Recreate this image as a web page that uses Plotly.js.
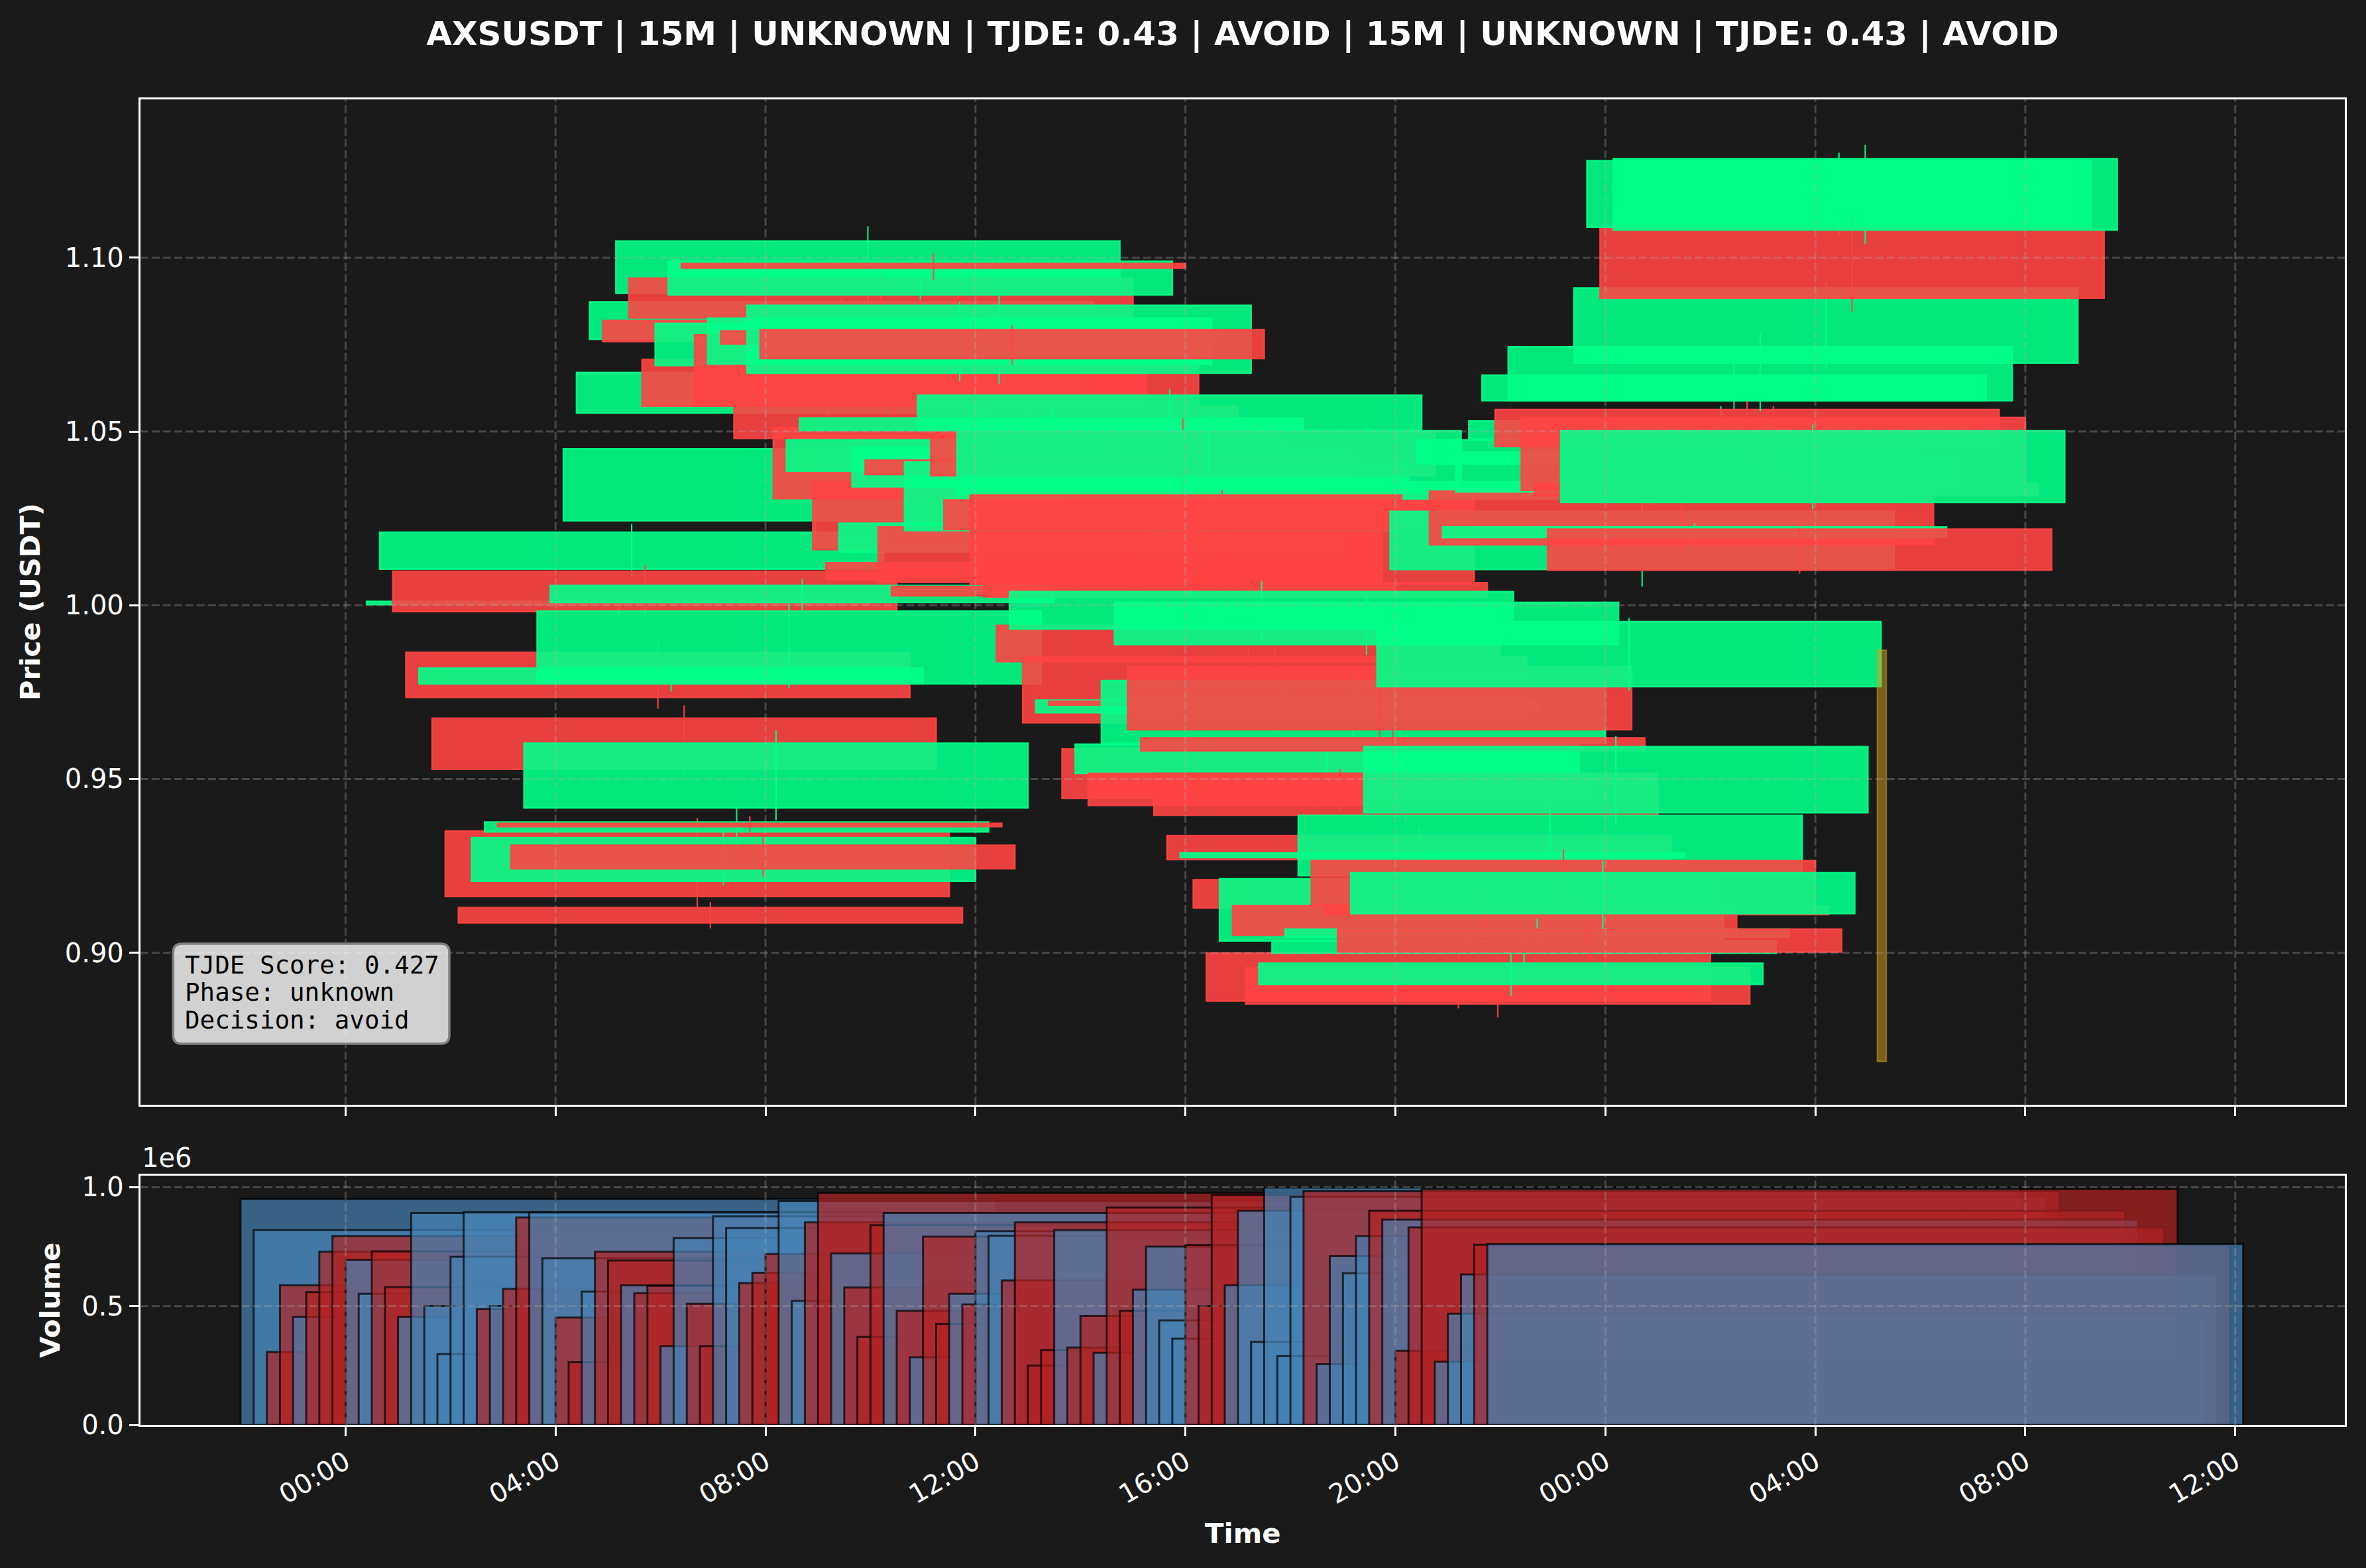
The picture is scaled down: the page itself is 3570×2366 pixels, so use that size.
<!DOCTYPE html>
<html><head><meta charset="utf-8">
<script src="https://cdn.plot.ly/plotly-3.0.1.min.js"></script>
<style>html,body{margin:0;padding:0;background:#1a1a1a;} #chart{width:3570px;height:2366px;}</style>
</head><body><div id="chart"></div>
<script>
// ---------------- data ----------------
const titleText = 'AXSUSDT | 15M | UNKNOWN | TJDE: 0.43 | AVOID | 15M | UNKNOWN | TJDE: 0.43 | AVOID';
const firstCandle = '2025-07-21T05:12:00Z';
const candleMinutes = 15;

const openP = [1.0002,1.0104,1.0098,0.9864,0.9774,0.9675,0.9350,0.9130,0.9206,0.9348,
0.9372,0.9309,0.9417,0.9774,1.0008,1.0243,1.0553,1.0765,1.0819,1.0898,
1.0941,1.0707,1.0690,1.0893,1.0983,1.0778,1.0694,1.0789,1.0573,1.0668,
1.0793,1.0511,1.0386,1.0503,1.0355,1.0122,1.0153,1.0341,1.0417,1.0225,
1.0054,1.0215,1.0503,1.0498,1.0303,1.0318,1.0317,1.0065,0.9942,0.9932,
0.9852,0.9691,0.9724,0.9586,0.9516,0.9516,0.9603,0.9887,0.9823,0.9618,
0.9516,0.9337,0.9274,0.9210,0.8999,0.9034,0.9135,0.8958,0.8909,0.8999,
0.9045,0.9222,0.9265,0.9134,0.9068,0.9113,0.9403,0.9766,1.0103,1.0306,
1.0406,1.0328,1.0195,1.0326,1.0478,1.0589,1.0563,1.0589,1.0540,1.0350,
1.0219,1.0296,1.0697,1.1088,1.1083,1.1080];
const closeP = [1.0011,1.0210,0.9982,0.9735,0.9819,0.9528,0.9162,0.9086,0.9331,0.9376,
0.9363,0.9242,0.9603,0.9983,1.0057,1.0450,1.0670,1.0873,1.0759,1.1048,
1.0827,1.0573,1.0811,1.0990,1.0970,1.0574,1.0826,1.0752,1.0480,1.0863,
1.0710,1.0307,1.0476,1.0539,1.0160,1.0073,1.0236,1.0455,1.0376,1.0066,
1.0027,1.0412,1.0604,1.0373,1.0218,1.0502,1.0060,1.0024,0.9838,1.0039,
0.9662,0.9727,0.9713,0.9444,0.9600,0.9424,0.9783,1.0008,0.9642,0.9581,
0.9396,0.9268,0.9287,0.9129,0.8861,0.9213,0.9051,0.8853,0.8970,0.9034,
0.9068,0.9395,0.9138,0.9110,0.9002,0.9230,0.9593,0.9953,1.0270,1.0355,
1.0476,1.0174,1.0225,1.0440,1.0530,1.0662,1.0457,1.0744,1.0331,1.0315,
1.0101,1.0502,1.0913,1.1279,1.0884,1.1285];
const highP = [1.0037,1.0234,1.0115,0.9895,0.9840,0.9712,0.9388,0.9146,0.9346,0.9416,
0.9393,0.9333,0.9640,1.0005,1.0075,1.0483,1.0687,1.0882,1.0863,1.1091,
1.0960,1.0735,1.0830,1.1003,1.1013,1.0801,1.0873,1.0816,1.0604,1.0892,
1.0806,1.0556,1.0502,1.0573,1.0374,1.0146,1.0275,1.0483,1.0459,1.0240,
1.0089,1.0440,1.0623,1.0538,1.0350,1.0554,1.0331,1.0089,0.9950,1.0070,
0.9873,0.9755,0.9755,0.9608,0.9611,0.9529,0.9803,1.0032,0.9873,0.9640,
0.9530,0.9360,0.9300,0.9232,0.9023,0.9246,0.9173,0.8997,0.9007,0.9061,
0.9097,0.9424,0.9298,0.9156,0.9090,0.9265,0.9624,0.9963,1.0317,1.0369,
1.0526,1.0357,1.0236,1.0470,1.0573,1.0697,1.0597,1.0782,1.0573,1.0366,
1.0224,1.0521,1.0928,1.1302,1.1123,1.1325];
const lowP = [0.9973,1.0080,0.9968,0.9702,0.9752,0.9510,0.9132,0.9070,0.9194,0.9302,
0.9346,0.9219,0.9381,0.9761,0.9987,1.0212,1.0540,1.0752,1.0716,1.0863,
1.0808,1.0540,1.0660,1.0880,1.0937,1.0554,1.0645,1.0702,1.0439,1.0636,
1.0692,1.0298,1.0374,1.0464,1.0141,1.0050,1.0122,1.0317,1.0331,1.0032,
0.9993,1.0184,1.0483,1.0322,1.0205,1.0305,1.0040,1.0008,0.9820,0.9897,
0.9636,0.9665,0.9675,0.9417,0.9508,0.9408,0.9584,0.9857,0.9598,0.9557,
0.9374,0.9246,0.9257,0.9108,0.8840,0.9001,0.9018,0.8814,0.8875,0.8970,
0.9013,0.9195,0.9103,0.9103,0.8982,0.9068,0.9371,0.9754,1.0054,1.0288,
1.0359,1.0146,1.0184,1.0312,1.0435,1.0556,1.0421,1.0558,1.0298,1.0298,
1.0091,1.0276,1.0683,1.1063,1.0844,1.1039];
const volumeM = [0.950,0.820,0.307,0.587,0.454,0.559,0.729,0.794,0.694,0.552,
0.730,0.580,0.454,0.891,0.501,0.298,0.708,0.896,0.487,0.501,
0.573,0.873,0.894,0.701,0.452,0.264,0.561,0.729,0.692,0.587,
0.554,0.585,0.331,0.786,0.510,0.331,0.878,0.828,0.597,0.640,
0.719,0.941,0.522,0.852,0.975,0.722,0.578,0.371,0.840,0.891,
0.480,0.285,0.792,0.426,0.552,0.507,0.815,0.796,0.608,0.852,
0.250,0.315,0.820,0.326,0.459,0.304,0.915,0.480,0.569,0.750,
0.440,0.363,0.757,0.501,0.966,0.587,0.901,0.350,0.998,0.290,
0.959,0.983,0.256,0.710,0.638,0.794,0.901,0.864,0.312,0.831,
0.992,0.266,0.468,0.633,0.758,0.761];

const alertTime = '2025-07-22 05:16:00';
const alertLow = 0.8687, alertHigh = 0.9871;

const priceTicks = [0.90, 0.95, 1.00, 1.05, 1.10];
const priceTickText = ['0.90', '0.95', '1.00', '1.05', '1.10'];
const volumeTicks = [0, 500000, 1000000];
const volumeTickText = ['0.0', '0.5', '1.0'];
const timeTicks = ['2025-07-21 00:00','2025-07-21 04:00','2025-07-21 08:00','2025-07-21 12:00',
  '2025-07-21 16:00','2025-07-21 20:00','2025-07-22 00:00','2025-07-22 04:00',
  '2025-07-22 08:00','2025-07-22 12:00'];
const timeTickText = ['00:00','04:00','08:00','12:00','16:00','20:00','00:00','04:00','08:00','12:00'];
const infoLines = ['TJDE Score: 0.427', 'Phase: unknown', 'Decision: avoid'];
const xRange = ['2025-07-20 20:05:28', '2025-07-22 14:05:10'];

// ---------------- styling ----------------
const W = 3570, H = 2366;
const BG = '#1a1a1a';
const UP = 'rgba(0,255,136,0.9)', DOWN = 'rgba(255,68,68,0.9)';
const VUP = 'rgba(70,130,180,0.7)', VDOWN = 'rgba(178,34,34,0.7)';
const GRID = 'rgba(176,176,176,0.3)';
const DAY = 86400000;
const bodyWidth = 0.4 * DAY, volWidth = 0.6 * DAY, wickWidth = 100000, alertWidth = 624000;

const plotL = 211.8, plotR = 3538;
const topT = 150.3, topB = 1666.8, botT = 1773.8, botB = 2150.3;

function fmt(ms) { return new Date(ms).toISOString().replace('T', ' ').slice(0, 19); }
const t0 = Date.parse(firstCandle);
const times = openP.map((_, i) => fmt(t0 + i * candleMinutes * 60000));

// interleave wick + body per candle, so later candles cover earlier wicks
const px = [], pBase = [], pH = [], pW = [], pC = [], pLC = [], pLW = [];
openP.forEach((o, i) => {
  const c = closeP[i], col = c >= o ? UP : DOWN;
  px.push(times[i]); pBase.push(lowP[i]); pH.push(highP[i] - lowP[i]); pW.push(wickWidth);
  pC.push(col); pLC.push(col); pLW.push(0);
  px.push(times[i]); pBase.push(Math.min(o, c)); pH.push(Math.abs(c - o)); pW.push(bodyWidth);
  pC.push(col); pLC.push(col); pLW.push(2.5);
});

const priceTrace = {
  type: 'bar', x: px, y: pH, base: pBase, width: pW, xaxis: 'x', yaxis: 'y',
  marker: { color: pC, line: { color: pLC, width: pLW } }, hoverinfo: 'skip', showlegend: false
};
const alertTrace = {
  type: 'bar', x: [alertTime], y: [alertHigh - alertLow], base: [alertLow], width: [alertWidth],
  xaxis: 'x', yaxis: 'y',
  marker: { color: 'rgba(218,165,32,0.5)', line: { color: 'rgba(218,165,32,0.5)', width: 2 } },
  hoverinfo: 'skip', showlegend: false
};
const volTrace = {
  type: 'bar', x: times, y: volumeM.map(v => v * 1e6), width: times.map(() => volWidth),
  xaxis: 'x2', yaxis: 'y2',
  marker: { color: openP.map((o, i) => closeP[i] >= o ? VUP : VDOWN),
            line: { color: 'rgba(0,0,0,0.7)', width: 3 } },
  hoverinfo: 'skip', showlegend: false
};

const tickFont = { family: 'DejaVu Sans', size: 40, color: 'white' };
const axisCommon = {
  showline: true, linecolor: 'white', linewidth: 3, mirror: true,
  ticks: 'outside', ticklen: 14, tickwidth: 3, tickcolor: 'white',
  showgrid: false, zeroline: false, tickfont: tickFont
};
const xdom = [plotL / W, plotR / W];

// grid lines drawn above data (as in reference)
const shapes = [];
const gridLine = { color: GRID, width: 3, dash: '12px,5px' };
[['x', 'y'], ['x2', 'y2']].forEach(([xa, ya]) => {
  timeTicks.forEach(t => shapes.push({ type: 'line', xref: xa, yref: ya + ' domain', x0: t, x1: t, y0: 0, y1: 1, line: gridLine, layer: 'above' }));
});
priceTicks.forEach(v => shapes.push({ type: 'line', xref: 'x domain', yref: 'y', x0: 0, x1: 1, y0: v, y1: v, line: gridLine, layer: 'above' }));
volumeTicks.slice(1).forEach(v => shapes.push({ type: 'line', xref: 'x2 domain', yref: 'y2', x0: 0, x1: 1, y0: v, y1: v, line: gridLine, layer: 'above' }));

// info box (rounded rectangle in paper coords)
const bx0 = 261.3 / W, bx1 = 678 / W, by0 = 1 - 1575 / H, by1 = 1 - 1424 / H;
const rx = 13 / W, ry = 13 / H;
shapes.push({
  type: 'path', xref: 'paper', yref: 'paper', layer: 'above',
  path: `M ${bx0 + rx} ${by0} L ${bx1 - rx} ${by0} Q ${bx1} ${by0} ${bx1} ${by0 + ry} L ${bx1} ${by1 - ry} Q ${bx1} ${by1} ${bx1 - rx} ${by1} L ${bx0 + rx} ${by1} Q ${bx0} ${by1} ${bx0} ${by1 - ry} L ${bx0} ${by0 + ry} Q ${bx0} ${by0} ${bx0 + rx} ${by0} Z`,
  fillcolor: 'rgba(255,255,255,0.8)', line: { color: '#808080', width: 3.5 }
});

const annotations = [];
const lineCenters = [1455.5, 1496.5, 1538.5];
infoLines.forEach((t, i) => annotations.push({
  xref: 'paper', yref: 'paper', x: 277 / W, y: 1 - lineCenters[i] / H, xanchor: 'left', yanchor: 'middle',
  text: t, showarrow: false, font: { family: 'DejaVu Sans Mono', size: 37.5, color: 'black' }
}));
annotations.push({ xref: 'paper', yref: 'paper', x: 45.5 / W, y: 1 - 908.5 / H, xanchor: 'center', yanchor: 'middle',
  text: 'Price (USDT)', textangle: -90, showarrow: false,
  font: { family: 'DejaVu Sans', size: 41.7, color: 'white', weight: 'bold' } });
annotations.push({ xref: 'paper', yref: 'paper', x: 75 / W, y: 1 - 1962 / H, xanchor: 'center', yanchor: 'middle',
  text: 'Volume', textangle: -90, showarrow: false,
  font: { family: 'DejaVu Sans', size: 41.7, color: 'white', weight: 'bold' } });
annotations.push({ xref: 'paper', yref: 'paper', x: 1875 / W, y: 1 - 2313 / H, xanchor: 'center', yanchor: 'middle',
  text: 'Time', showarrow: false,
  font: { family: 'DejaVu Sans', size: 41.7, color: 'white', weight: 'bold' } });
annotations.push({ xref: 'paper', yref: 'paper', x: plotL / W, y: 1 - 1747 / H, xanchor: 'left', yanchor: 'middle',
  text: '1e6', showarrow: false, font: tickFont });

const layout = {
  width: W, height: H, paper_bgcolor: BG, plot_bgcolor: BG,
  margin: { l: 0, r: 0, t: 0, b: 0 }, barmode: 'overlay', showlegend: false,
  title: { text: titleText, x: 1875 / W, xanchor: 'center', y: 1 - 50 / H, yanchor: 'middle',
           font: { family: 'DejaVu Sans', size: 50, color: 'white', weight: 'bold' } },
  xaxis: Object.assign({}, axisCommon, { type: 'date', domain: xdom, anchor: 'y', range: xRange,
    tickvals: timeTicks, ticktext: timeTickText, showticklabels: false }),
  yaxis: Object.assign({}, axisCommon, { domain: [1 - topB / H, 1 - topT / H], anchor: 'x',
    range: [0.8563, 1.1455], tickvals: priceTicks, ticktext: priceTickText }),
  xaxis2: Object.assign({}, axisCommon, { type: 'date', domain: xdom, anchor: 'y2', range: xRange,
    matches: 'x', tickvals: timeTicks, ticktext: timeTickText, tickangle: -30 }),
  yaxis2: Object.assign({}, axisCommon, { domain: [1 - botB / H, 1 - botT / H], anchor: 'x2',
    range: [0, 1049000], tickvals: volumeTicks, ticktext: volumeTickText }),
  shapes: shapes, annotations: annotations
};

Plotly.newPlot('chart', [volTrace, priceTrace, alertTrace], layout, { displayModeBar: false, staticPlot: true });
</script></body></html>
